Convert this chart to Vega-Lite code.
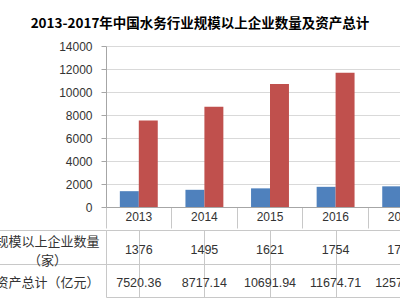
{
  "$schema": "https://vega.github.io/schema/vega-lite/v6.json",
  "padding": {"left": -6, "top": 16, "right": 0, "bottom": 0},
  "spacing": 0,
  "config": {
    "font": "Liberation Sans, Noto Sans CJK SC",
    "view": {"stroke": null}
  },
  "datasets": {
    "t": [
      {"year": "2013", "count": 1376, "assets": 7520.36},
      {"year": "2014", "count": 1495, "assets": 8717.14},
      {"year": "2015", "count": 1621, "assets": 10691.94},
      {"year": "2016", "count": 1754, "assets": 11674.71},
      {"year": "2017", "count": 1798, "assets": 12573.28}
    ]
  },
  "vconcat": [
    {
      "width": 328,
      "height": 161,
      "title": {
        "text": "2013-2017年中国水务行业规模以上企业数量及资产总计",
        "anchor": "middle",
        "frame": "group",
        "dx": -70,
        "fontSize": 13.5,
        "fontWeight": "bold",
        "font": "Noto Sans CJK SC",
        "color": "#000000",
        "offset": 10
      },
      "data": {"name": "t"},
      "transform": [{"fold": ["count", "assets"], "as": ["key", "value"]}],
      "mark": {"type": "bar"},
      "encoding": {
        "x": {
          "field": "year",
          "type": "nominal",
          "scale": {"paddingInner": 0, "paddingOuter": 0},
          "axis": {
            "title": null,
            "domain": true,
            "domainColor": "#a6a6a6",
            "ticks": true,
            "tickSize": 21,
            "tickColor": "#c8c8c8",
            "bandPosition": 0,
            "labelAngle": 0,
            "labelPadding": -17,
            "labelBaseline": "top",
            "labelAlign": "center",
            "labelFontSize": 12,
            "labelColor": "#333333",
            "grid": false
          }
        },
        "xOffset": {
          "field": "key",
          "sort": ["count", "assets"],
          "scale": {"paddingInner": 0, "paddingOuter": 0.73}
        },
        "y": {
          "field": "value",
          "type": "quantitative",
          "scale": {"domain": [0, 14000]},
          "axis": {
            "title": null,
            "values": [0, 2000, 4000, 6000, 8000, 10000, 12000, 14000],
            "format": "d",
            "domainColor": "#a6a6a6",
            "tickColor": "#a6a6a6",
            "tickSize": 5,
            "labelPadding": 9,
            "labelFontSize": 12,
            "labelColor": "#333333",
            "grid": true,
            "gridColor": "#d9d9d9"
          }
        },
        "color": {
          "field": "key",
          "type": "nominal",
          "scale": {"domain": ["count", "assets"], "range": ["#4F81BD", "#C0504D"]},
          "legend": null
        }
      }
    },
    {
      "width": 328,
      "height": 67,
      "data": {"name": "t"},
      "view": {"stroke": "#c8c8c8"},
      "transform": [{"fold": ["count", "assets"], "as": ["key", "value"]}],
      "encoding": {
        "x": {
          "field": "year",
          "type": "nominal",
          "scale": {"paddingInner": 0, "paddingOuter": 0},
          "axis": {
            "orient": "top",
            "title": null,
            "labels": false,
            "ticks": false,
            "domain": false,
            "grid": true,
            "bandPosition": 0,
            "gridColor": "#c8c8c8"
          }
        },
        "y": {
          "field": "key",
          "type": "nominal",
          "scale": {"domain": ["count", "assets"], "paddingInner": 0, "paddingOuter": 0},
          "axis": {
            "title": null,
            "domain": false,
            "ticks": true,
            "tickSize": 111,
            "tickOffset": -16.75,
            "tickColor": "#c8c8c8",
            "grid": true,
            "gridColor": "#c8c8c8",
            "labelAlign": "center",
            "labelBaseline": "middle",
            "labelPadding": -52,
            "labelOffset": {"condition": {"test": "datum.value == 'count'", "value": 11.75}, "value": 18.75},
            "labelFontSize": 13,
            "labelLineHeight": 19,
            "labelColor": "#333333",
            "labelFont": "Noto Sans CJK SC",
            "labelExpr": "datum.value == 'count' ? ['规模以上企业数量', '（家）'] : '资产总计（亿元）'"
          }
        }
      },
      "layer": [
        {
          "transform": [{"filter": "datum.key == 'count'"}],
          "mark": {"type": "text", "fontSize": 12.5, "color": "#333333", "dy": 3},
          "encoding": {
            "text": {"field": "value", "type": "quantitative", "format": "d"}
          }
        },
        {
          "transform": [{"filter": "datum.key == 'assets'"}],
          "mark": {"type": "text", "fontSize": 12.5, "color": "#333333", "dy": 3},
          "encoding": {
            "text": {"field": "value", "type": "quantitative", "format": ".2f"}
          }
        }
      ]
    }
  ]
}
